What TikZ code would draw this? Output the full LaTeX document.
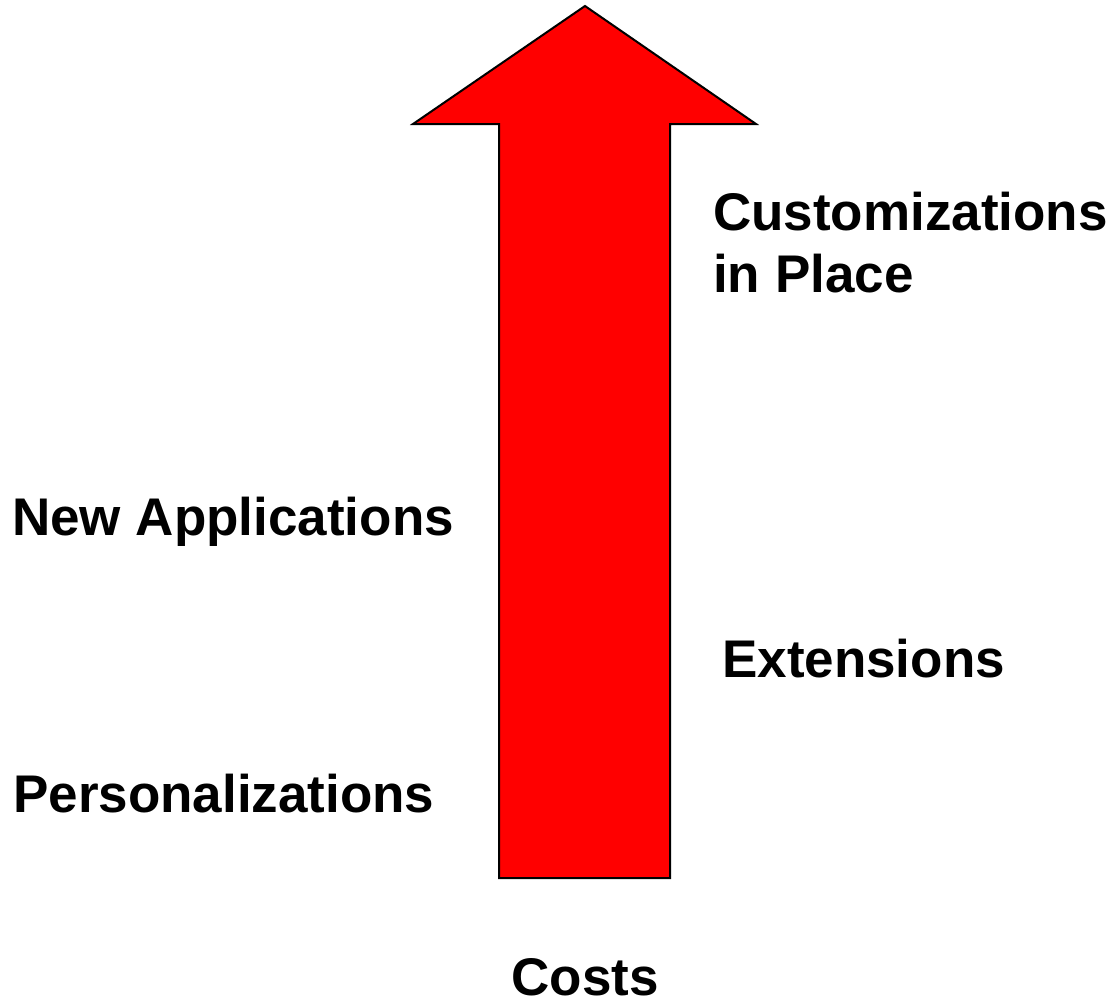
\documentclass[tikz,border=0pt]{standalone}
\usepackage{fontspec}
\setmainfont{Liberation Sans}
\begin{document}
\begin{tikzpicture}[x=1pt,y=-1pt,
  lbl/.style={anchor=base west,inner sep=0pt,font=\fontsize{53}{63}\selectfont\bfseries,align=left},
  arrowshape/.style={fill=red,draw=black,line width=2pt,line join=miter}]
\useasboundingbox (0,0) rectangle (1115,1001);
\draw[arrowshape] (499,878) -- (499,124) -- (413,124) -- (585,6) -- (756,124) -- (670,124) -- (670,878) -- cycle;
\node[lbl] (cust) at (713,230) {Customizations};
\node[lbl] (place) at (713,292) {in Place};
\node[lbl] (newapp) at (12,535) {New Applications};
\node[lbl] (ext) at (722,677) {Extensions};
\node[lbl,anchor=base] (costs) at (585,995) {Costs};
\node[lbl] (pers) at (13,812) {Personalizations};
\end{tikzpicture}
\end{document}
